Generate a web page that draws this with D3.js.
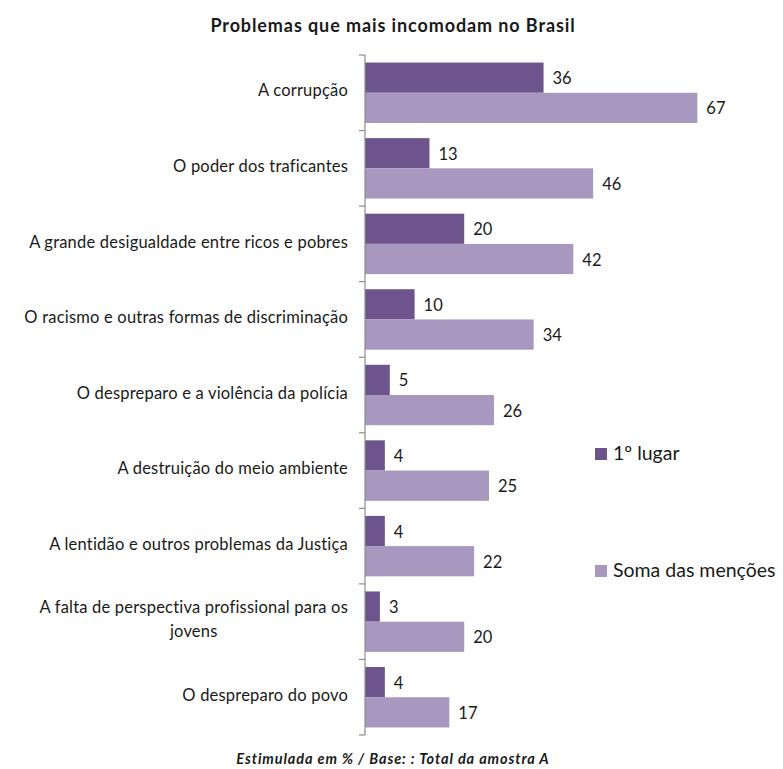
<!DOCTYPE html>
<html>
<head>
<meta charset="utf-8">
<script src="https://cdn.jsdelivr.net/npm/d3@7"></script>
<style>
  html, body { margin: 0; padding: 0; background: #fff; }
  svg { display: block; }
  text { font-family: Lato, "Open Sans", sans-serif; fill: #1a1a1a; }
</style>
</head>
<body>
<svg id="chart" width="783" height="769"></svg>
<script>
// Problems that bother people most in Brazil (%)
const categories = [
  "A corrupção",
  "O poder dos traficantes",
  "A grande desigualdade entre ricos e pobres",
  "O racismo e outras formas de discriminação",
  "O despreparo e a violência da polícia",
  "A destruição do meio ambiente",
  "A lentidão e outros problemas da Justiça",
  "A falta de perspectiva profissional para os\njovens",
  "O despreparo do povo"
];
const firstPlace = [36, 13, 20, 10, 5, 4, 4, 3, 4];
const totalMentions = [67, 46, 42, 34, 26, 25, 22, 20, 17];
const seriesNames = ["1º lugar", "Soma das menções"];
const colors = ["#6E548C", "#A897BE"];

const svg = d3.select("#chart");
const axisX = 365;
const plotTop = 55, plotBottom = 735;

const x = d3.scaleLinear().domain([0, 100]).range([axisX, axisX + 496]);
const y = d3.scaleBand().domain(categories).range([plotTop, plotBottom]).paddingInner(0.2).paddingOuter(0.1);
const sub = d3.scaleBand().domain([0, 1]).range([0, y.bandwidth()]);

// Title
svg.append("text")
  .attr("x", 393).attr("y", 32)
  .attr("text-anchor", "middle")
  .style("font-size", "18px").style("font-weight", "bold")
  .style("letter-spacing", "0.9px")
  .text("Problemas que mais incomodam no Brasil");

const rows = categories.map((c, i) => ({ c, vals: [firstPlace[i], totalMentions[i]] }));

const g = svg.append("g");
const groups = g.selectAll("g.row").data(rows).join("g")
  .attr("class", "row")
  .attr("transform", d => `translate(0,${y(d.c)})`);

groups.selectAll("rect").data(d => d.vals).join("rect")
  .attr("x", x(0))
  .attr("y", (v, j) => sub(j))
  .attr("width", v => x(v) - x(0))
  .attr("height", sub.bandwidth())
  .attr("fill", (v, j) => colors[j]);

groups.selectAll("text.val").data(d => d.vals).join("text")
  .attr("class", "val")
  .attr("x", v => x(v) + 9)
  .attr("y", (v, j) => sub(j) + sub.bandwidth() / 2)
  .attr("dy", "0.4em")
  .style("font-size", "16.5px")
  .text(v => v);

// Category axis with ticks between categories
const bandStep = (plotBottom - plotTop) / categories.length;
const axisG = svg.append("g");
axisG.append("line")
  .attr("x1", axisX).attr("x2", axisX)
  .attr("y1", plotTop).attr("y2", plotBottom)
  .attr("stroke", "#8c8c8c").attr("stroke-width", 1.2);
d3.range(categories.length + 1).forEach(i => {
  axisG.append("line")
    .attr("x1", axisX - 6).attr("x2", axisX)
    .attr("y1", plotTop + i * bandStep).attr("y2", plotTop + i * bandStep)
    .attr("stroke", "#8c8c8c").attr("stroke-width", 1.2);
});

// Category labels (multi-line labels centred under the first line)
const labelRight = 348;
rows.forEach(d => {
  const lines = d.c.split("\n");
  const cy = y(d.c) + y.bandwidth() / 2;
  const lh = 24;
  const t = svg.append("text")
    .style("font-size", "16.5px")
    .style("letter-spacing", "0.2px")
    .attr("text-anchor", "end");
  if (lines.length === 1) {
    t.attr("x", labelRight).attr("y", cy).attr("dy", "0.22em").text(lines[0]);
  } else {
    const y0 = cy - (lines.length - 1) * lh / 2;
    const first = t.append("tspan").attr("x", labelRight).attr("y", y0).attr("dy", "0.22em").text(lines[0]);
    const w = first.node().getComputedTextLength();
    t.attr("text-anchor", "middle");
    first.attr("x", labelRight - w / 2);
    lines.slice(1).forEach((ln, k) => {
      t.append("tspan").attr("x", labelRight - w / 2).attr("y", y0 + (k + 1) * lh).attr("dy", "0.22em").text(ln);
    });
  }
});

// Legend
const legendY = [454, 571];
seriesNames.forEach((name, i) => {
  svg.append("rect")
    .attr("x", 595).attr("y", legendY[i] - 6)
    .attr("width", 12).attr("height", 12)
    .attr("fill", colors[i]);
  svg.append("text")
    .attr("x", 613).attr("y", legendY[i] + 6)
    .style("font-size", "19.5px")
    .text(name);
});

// Footnote
svg.append("text")
  .attr("x", 393).attr("y", 764)
  .attr("text-anchor", "middle")
  .style("font-size", "14.5px").style("font-style", "italic").style("font-weight", "bold")
  .style("letter-spacing", "0.9px")
  .text("Estimulada em % / Base: : Total da amostra A");
</script>
</body>
</html>
